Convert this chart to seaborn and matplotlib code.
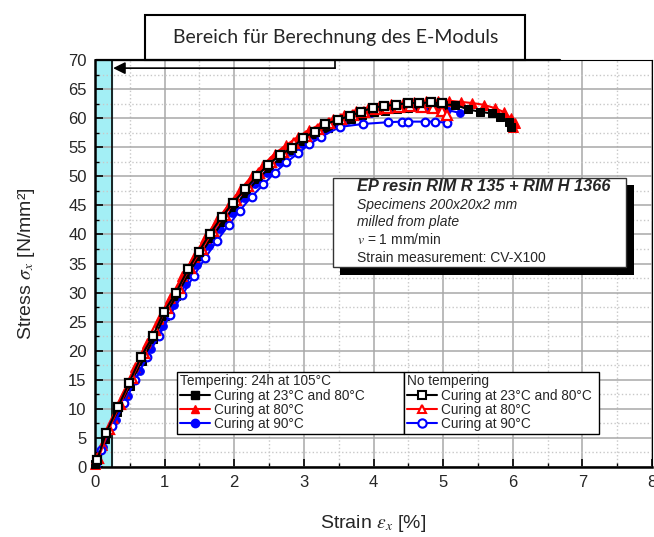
import numpy as np
import pandas as pd
import seaborn as sns
import matplotlib.pyplot as plt
from matplotlib.lines import Line2D
from matplotlib.patches import Rectangle
from matplotlib.ticker import MultipleLocator

# tempered 24h at 105 C
strain_t_2380 = [0, 0.15, 0.32, 0.5, 0.67, 0.84, 1.0, 1.17, 1.34, 1.5, 1.67, 1.84, 2.0, 2.17, 2.34, 2.5,
                 2.67, 2.84, 3.0, 3.17, 3.34, 3.5, 3.67, 3.84, 4.0, 4.17, 4.34, 4.5, 4.67, 4.84, 5.0, 5.17,
                 5.36, 5.53, 5.7, 5.82, 5.94, 5.97]
stress_t_2380 = [0.5, 4.8, 9.5, 14.0, 18.2, 22.0, 26.0, 29.4, 33.2, 36.3, 39.4, 42.2, 44.8, 47.2, 49.5, 51.4,
                 53.2, 54.6, 56.0, 57.2, 58.3, 59.1, 59.9, 60.5, 61.0, 61.3, 61.5, 61.7, 61.9, 62.1, 62.3, 62.3,
                 61.5, 61.1, 60.8, 60.2, 59.4, 58.5]
strain_t_80 = [0, 0.1, 0.26, 0.42, 0.58, 0.75, 0.92, 1.08, 1.25, 1.42, 1.58, 1.75, 1.92, 2.08, 2.25, 2.42,
               2.58, 2.75, 2.92, 3.08, 3.25, 3.42, 3.58, 3.75, 3.92, 4.08, 4.25, 4.42, 4.58, 4.75, 4.92, 5.08,
               5.25, 5.42, 5.58, 5.75, 5.88, 5.97, 6.03, 6.0]
stress_t_80 = [0.5, 3.8, 8.5, 12.8, 17.2, 21.3, 25.5, 29.0, 32.8, 36.2, 39.4, 42.4, 45.1, 47.6, 50.0, 52.0,
               53.9, 55.4, 56.8, 58.0, 59.0, 59.9, 60.6, 61.2, 61.7, 62.1, 62.4, 62.6, 62.8, 62.9, 63.0, 63.0,
               62.8, 62.6, 62.3, 61.7, 61.0, 60.0, 59.2, 58.4]
strain_t_90 = [0.02, 0.12, 0.3, 0.47, 0.64, 0.8, 0.97, 1.14, 1.3, 1.47, 1.64, 1.8, 1.97, 2.14, 2.3, 2.47,
               2.64, 2.8, 2.97, 3.14, 3.3, 3.47, 3.64, 3.8, 3.97, 4.14, 4.3, 4.47, 4.64, 4.8, 4.97, 5.06, 5.24]
stress_t_90 = [0.3, 3.5, 8.0, 12.2, 16.5, 20.3, 24.3, 27.8, 31.4, 34.8, 38.0, 41.0, 43.7, 46.2, 48.6, 50.6,
               52.5, 54.1, 55.6, 56.9, 58.0, 58.9, 59.7, 60.3, 60.8, 61.2, 61.5, 61.7, 61.8, 61.8, 61.6, 61.4, 60.9]

# no tempering
strain_n_2380 = [0.03, 0.16, 0.33, 0.49, 0.66, 0.83, 0.99, 1.16, 1.34, 1.49, 1.65, 1.82, 1.98, 2.16, 2.33,
                 2.49, 2.66, 2.83, 2.99, 3.16, 3.31, 3.49, 3.66, 3.82, 3.99, 4.15, 4.32, 4.49, 4.66, 4.82, 4.98]
stress_n_2380 = [1.2, 5.9, 10.3, 14.5, 18.9, 22.5, 26.7, 29.9, 34.1, 37.0, 40.1, 43.0, 45.4, 47.8, 50.1,
                 52.0, 53.7, 54.9, 56.6, 57.7, 59.0, 59.7, 60.4, 61.1, 61.8, 62.1, 62.3, 62.6, 62.6, 62.7, 62.6]
strain_n_80 = [0.05, 0.2, 0.36, 0.53, 0.7, 0.86, 1.03, 1.2, 1.36, 1.53, 1.7, 1.86, 2.03, 2.2, 2.36, 2.53,
               2.7, 2.86, 3.03, 3.2, 3.36, 3.53, 3.7, 3.86, 4.03, 4.2, 4.36, 4.53, 4.7, 4.86, 4.98, 5.05]
stress_n_80 = [1.5, 6.5, 10.8, 15.3, 19.6, 23.5, 27.4, 30.8, 34.2, 37.5, 40.6, 43.4, 46.0, 48.4, 50.6, 52.5,
               54.2, 55.7, 57.0, 58.1, 59.1, 59.9, 60.6, 61.1, 61.5, 61.8, 62.0, 62.1, 62.0, 61.8, 61.3, 60.6]
strain_n_90 = [0.08, 0.25, 0.42, 0.58, 0.75, 0.92, 1.08, 1.25, 1.42, 1.58, 1.75, 1.92, 2.08, 2.25, 2.42,
               2.58, 2.75, 2.92, 3.08, 3.25, 3.52, 3.85, 4.21, 4.41, 4.5, 4.74, 4.89, 5.06]
stress_n_90 = [3.0, 7.0, 11.0, 15.0, 19.0, 22.6, 26.2, 29.5, 32.9, 35.9, 38.9, 41.6, 44.1, 46.5, 48.6,
               50.6, 52.4, 54.0, 55.5, 56.8, 58.5, 59.0, 59.3, 59.4, 59.4, 59.4, 59.4, 59.2]

labels = ['Curing at 23°C and 80°C', 'Curing at 80°C', 'Curing at 90°C']
colors = ['black', '#ff0000', '#0000ff']
marks = ['s', '^', 'o']

sns.set_theme(style='white')
plt.rcParams['font.family'] = ['Liberation Sans', 'DejaVu Sans']
plt.rcParams['mathtext.fontset'] = 'stix'

fig = plt.figure(figsize=(6.54, 5.37), dpi=100)
ax = fig.add_axes([95 / 654, 70 / 537, 557 / 654, 407 / 537])

# E-modulus range
ax.axvspan(0, 0.25, color='#a3eff5', zorder=0.5)
ax.axvline(0.25, color='black', lw=1.2, zorder=0.6)

tempered = [(strain_t_2380, stress_t_2380), (strain_t_80, stress_t_80), (strain_t_90, stress_t_90)]
untempered = [(strain_n_2380, stress_n_2380), (strain_n_80, stress_n_80), (strain_n_90, stress_n_90)]

order = [2, 1, 0]
for i in order:
    x, y = tempered[i]
    df = pd.DataFrame({'Strain': x, 'Stress': y})
    sns.lineplot(data=df, x='Strain', y='Stress', sort=False, estimator=None, ax=ax,
                 color=colors[i], marker=marks[i], markersize=5.5 if i != 1 else 6.5,
                 markeredgecolor=colors[i], lw=1.5, zorder=3, clip_on=False)
for i in order:
    x, y = untempered[i]
    df = pd.DataFrame({'Strain': x, 'Stress': y})
    sns.lineplot(data=df, x='Strain', y='Stress', sort=False, estimator=None, ax=ax,
                 color=colors[i], marker=marks[i], markersize=5.5 if i != 1 else 6.5,
                 markerfacecolor='white', markeredgecolor=colors[i], markeredgewidth=1.6,
                 lw=1.5, zorder=4, clip_on=False)

ax.set_xlim(0, 8)
ax.set_ylim(0, 70)
ax.xaxis.set_major_locator(MultipleLocator(1))
ax.xaxis.set_minor_locator(MultipleLocator(0.5))
ax.yaxis.set_major_locator(MultipleLocator(5))
ax.yaxis.set_minor_locator(MultipleLocator(2.5))
ax.grid(True, which='major', color='#a8a8a8', lw=1.1, ls='-', zorder=0)
ax.grid(True, which='minor', color='#c8c8c8', lw=1.0, ls=':', zorder=0)
ax.set_axisbelow(True)
ax.tick_params(which='major', direction='in', length=6, width=1.2, color='black',
               labelsize=12, bottom=True, left=True, pad=6)
ax.tick_params(which='minor', direction='in', length=3, width=1.0, color='black', bottom=True, left=True)
for side in ['left', 'bottom']:
    ax.spines[side].set_linewidth(1.8)
    ax.spines[side].set_color('black')
for side in ['top', 'right']:
    ax.spines[side].set_linewidth(0.8)
    ax.spines[side].set_color('black')

ax.set_xlabel(r'Strain $\varepsilon_x$ [%]', fontsize=14, labelpad=16)
ax.set_ylabel(r'Stress $\sigma_x$ [N/mm²]', fontsize=14, labelpad=22)

# legend (two columns with headers)
h_t = [Line2D([], [], color=c, marker=m, markersize=6, lw=1.5) for c, m in zip(colors, marks)]
h_n = [Line2D([], [], color=c, marker=m, markersize=6, lw=1.5, markerfacecolor='white',
              markeredgewidth=1.5) for c, m in zip(colors, marks)]
leg_kw = dict(loc='lower left', mode='expand', bbox_transform=ax.transData, fontsize=9.8,
              title_fontsize=9.8, alignment='left', frameon=True, fancybox=False, framealpha=1,
              edgecolor='black', borderpad=0.2, labelspacing=0.02, handlelength=2.2,
              handletextpad=0.3, borderaxespad=0)
leg1 = ax.legend(handles=h_t, labels=labels, title='Tempering: 24h at 105°C',
                 bbox_to_anchor=(1.18, 5.7, 3.26, 11), **leg_kw)
leg1.get_frame().set_linewidth(1.0)
leg1.set_zorder(6)
ax.add_artist(leg1)
leg2 = ax.legend(handles=h_n, labels=labels, title='No tempering',
                 bbox_to_anchor=(4.44, 5.7, 2.8, 11), **leg_kw)
leg2.get_frame().set_linewidth(1.0)
leg2.set_zorder(6)

# info box with shadow
ax.add_patch(Rectangle((3.52, 33.0), 4.22, 15.5, facecolor='black', edgecolor='none',
                       zorder=7, clip_on=False))
ax.add_patch(Rectangle((3.42, 34.4), 4.21, 15.3, facecolor='white', edgecolor='#333333',
                       lw=1.0, zorder=8, clip_on=False))
tx = 3.76
ax.text(tx, 48.2, 'EP resin RIM R 135 + RIM H 1366', fontsize=11.8, fontweight='bold',
        fontstyle='italic', va='center', zorder=9)
ax.text(tx, 45.1, 'Specimens 200x20x2 mm', fontsize=10, fontstyle='italic', va='center', zorder=9)
ax.text(tx, 42.2, 'milled from plate', fontsize=10, fontstyle='italic', va='center', zorder=9)
ax.text(tx, 39.1, r'$v$ = 1 mm/min', fontsize=10, va='center', zorder=9)
ax.text(tx, 36.0, 'Strain measurement: CV-X100', fontsize=10, va='center', zorder=9)

# annotation box for E-modulus range
ax.add_patch(Rectangle((0.72, 70), 5.46, 7.8, facecolor='white', edgecolor='black', lw=1.5,
                       zorder=9, clip_on=False))
ax.text(3.45, 73.9, 'Bereich für Berechnung des E-Moduls', fontsize=14, family=['Lato', 'DejaVu Sans'],
        ha='center', va='center', zorder=10, clip_on=False)
ax.plot([0.02, 6.68], [70, 70], color='black', lw=1.6, zorder=9, clip_on=False)
ax.plot([3.45, 3.45], [70, 68.6], color='black', lw=1.2, zorder=9, clip_on=False)
ax.annotate('', xy=(0.26, 68.6), xytext=(3.45, 68.6),
            arrowprops=dict(arrowstyle='-|>', color='black', lw=1.2, mutation_scale=18,
                            shrinkA=0, shrinkB=0), zorder=9)

fig.savefig('out.png', dpi=100)
